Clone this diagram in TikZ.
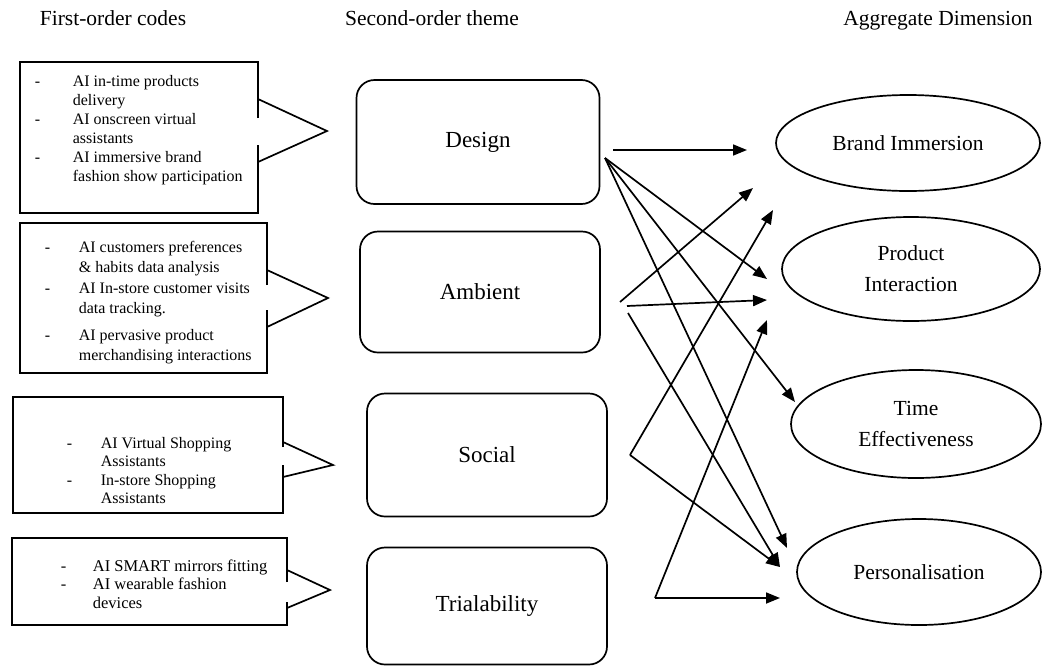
\documentclass[tikz,border=0pt]{standalone}
\usepackage{fontspec}
\setmainfont{Liberation Serif}
\usetikzlibrary{shapes.geometric,arrows.meta}

\begin{document}
\begin{tikzpicture}[%
		x=1pt, y=-1pt,
		line width=1.7pt,
		heading/.style={anchor=base, font=\fontsize{21.5}{24}\selectfont},
		codes/.style={inner sep=0pt, anchor=base west, font=\fontsize{16}{19}\selectfont},
		theme/.style={draw, rounded corners=18pt, inner sep=0pt, font=\fontsize{23}{27}\selectfont},
		dimension/.style={draw, ellipse, inner sep=0pt, align=center, font=\fontsize{21.5}{31}\selectfont},
		link/.style={-{Triangle[length=14pt,width=11pt]}}
	]

	\useasboundingbox (0,0) rectangle (1044,670);

	% headings
	\node[heading] (hfirst) at (113,25) {First-order codes};
	\node[heading] (hsecond) at (432,25) {Second-order theme};
	\node[heading] (haggregate) at (938,25) {Aggregate Dimension};

	% first-order codes
	\node[codes, font=\fontsize{16}{19}\selectfont] (code1) at (34,86) {%
		\begin{tabular}[t]{@{}p{38pt}@{}l@{}}
			- & AI in-time products \\
			  & delivery \\
			- & AI onscreen virtual \\
			  & assistants \\
			- & AI immersive brand \\
			  & fashion show participation
		\end{tabular}};
	\draw (258,118) -- (258,62) -- (20,62) -- (20,213) -- (258,213) -- (258,145);
	\draw (258,99) -- (327,131) -- (258,162);

	\node[codes, font=\fontsize{16}{20}\selectfont] (code2) at (44,252) {%
		\begin{tabular}[t]{@{}p{34pt}@{}l@{}}
			- & AI customers preferences \\
			  & \& habits data analysis \\[1pt]
			- & AI In-store customer visits \\
			  & data tracking. \\[7pt]
			- & AI pervasive product \\
			  & merchandising interactions
		\end{tabular}};
	\draw (267,285) -- (267,223) -- (20,223) -- (20,373) -- (267,373) -- (267,310);
	\draw (267,270) -- (328,298) -- (267,327);

	\node[codes, font=\fontsize{16}{18.5}\selectfont] (code3) at (66,448) {%
		\begin{tabular}[t]{@{}p{34pt}@{}l@{}}
			- & AI Virtual Shopping \\
			  & Assistants \\
			- & In-store Shopping \\
			  & Assistants
		\end{tabular}};
	\draw (283,447) -- (283,397) -- (13,397) -- (13,513) -- (283,513) -- (283,465);
	\draw (283,442) -- (333,465) -- (283,477);

	\node[codes, font=\fontsize{16.5}{18.5}\selectfont] (code4) at (60,571) {%
		\begin{tabular}[t]{@{}p{32pt}@{}l@{}}
			- & AI SMART mirrors fitting \\
			- & AI wearable fashion \\
			  & devices
		\end{tabular}};
	\draw (287,582) -- (287,538) -- (12,538) -- (12,625) -- (287,625) -- (287,602);
	\draw (287,570) -- (330,590) -- (287,608);

	% second-order themes
	\node[theme, minimum width=243pt, minimum height=124pt] (design) at (478,142) {Design};
	\node[theme, minimum width=240pt, minimum height=121pt] (ambient) at (480,292) {Ambient};
	\node[theme, minimum width=240pt, minimum height=123pt] (social) at (487,455) {Social};
	\node[theme, minimum width=240pt, minimum height=117pt] (trial) at (487,606) {Trialability};

	% aggregate dimensions
	\node[dimension, minimum width=264pt, minimum height=96pt] (brand) at (908,143) {Brand Immersion};
	\node[dimension, minimum width=258pt, minimum height=104pt] (product) at (911,269) {Product\\Interaction};
	\node[dimension, minimum width=250pt, minimum height=108pt] (time) at (916,424) {Time\\Effectiveness};
	\node[dimension, minimum width=244pt, minimum height=106pt] (personal) at (919,572) {Personalisation};

	% arrow ends
	\coordinate (d1) at (613,150);
	\coordinate (d2) at (605,158);
	\coordinate (a1) at (620,302);
	\coordinate (a2) at (627,306);
	\coordinate (a3) at (628,313);
	\coordinate (s1) at (630,455);
	\coordinate (t1) at (655,598);

	\coordinate (b1) at (747,150);
	\coordinate (b2) at (753,188);
	\coordinate (b3) at (773,210);
	\coordinate (p1) at (767,279);
	\coordinate (p2) at (767,300);
	\coordinate (p3) at (767,320);
	\coordinate (e1) at (795,402);
	\coordinate (q1) at (787,548);
	\coordinate (q2) at (780,567);
	\coordinate (q3) at (780,598);

	\foreach \from/\to in {d1/b1, d2/p1, d2/e1, d2/q1, a1/b2, a2/p2, a3/q2, s1/b3, s1/q2, t1/q3, t1/p3}
		\draw[link] (\from) -- (\to);
\end{tikzpicture}
\end{document}
